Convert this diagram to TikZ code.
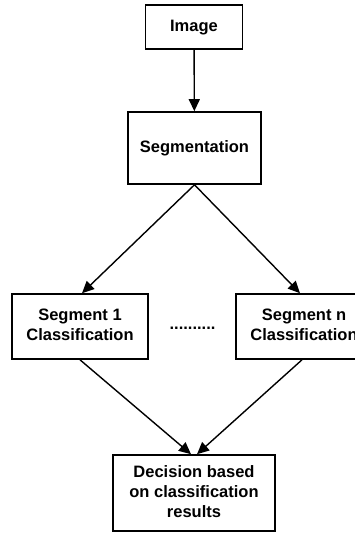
\documentclass[tikz,border=0pt]{standalone}
\usepackage{fontspec}
\setmainfont{Liberation Sans}
\usepackage{tikz}
\usetikzlibrary{arrows.meta}
\usetikzlibrary{positioning}

\newcommand{\boxlines}[2][0pt]{\raisebox{#1}{\begin{tabular}{@{}c@{}}#2\end{tabular}}}

\tikzset{
    stepbox/.style={draw, line width=1.6pt, inner sep=0pt,
        font=\fontsize{16.5}{20}\selectfont\bfseries},
    flow/.style={line width=1.4pt, -{Triangle[length=12pt,width=11pt]}}
}

\begin{document}
\begin{tikzpicture}[x=1pt,y=-1pt]
        \clip (0,0) rectangle (355,533);
        \useasboundingbox (0,0) rectangle (355,533);

        \node[stepbox, minimum width=97pt, minimum height=44pt] (img) at (194,27) {\boxlines[4pt]{Image}};
        \node[stepbox, minimum width=133pt, minimum height=72pt] (seg) at (194.5,148) {\boxlines[4pt]{Segmentation}};
        \node[stepbox, minimum width=136pt, minimum height=65pt] (seg1) at (80,326.5) {\boxlines[6pt]{Segment 1\\Classification}};
        \node[stepbox, minimum width=136pt, minimum height=65pt] (segn) at (304,326.5) {\boxlines[6pt]{Segment n\\Classification}};
        \node[stepbox, minimum width=162pt, minimum height=76pt] (dec) at (194,493) {\boxlines{Decision based\\on classification\\results}};
        \node[font=\fontsize{16.5}{20}\selectfont\bfseries, anchor=base] (dots) at (192.5,329) {..........};

        \draw[flow] (img) -- (seg);
        \draw[flow] (seg.south) -- ([xshift=2pt]seg1.north);
        \draw[flow] (seg.south) -- ([xshift=-4pt]segn.north);
        \draw[flow] (seg1.south) -- ([xshift=-3pt]dec.north);
        \draw[flow] ([xshift=-2pt]segn.south) -- ([xshift=3pt]dec.north);
    \end{tikzpicture}
\end{document}
